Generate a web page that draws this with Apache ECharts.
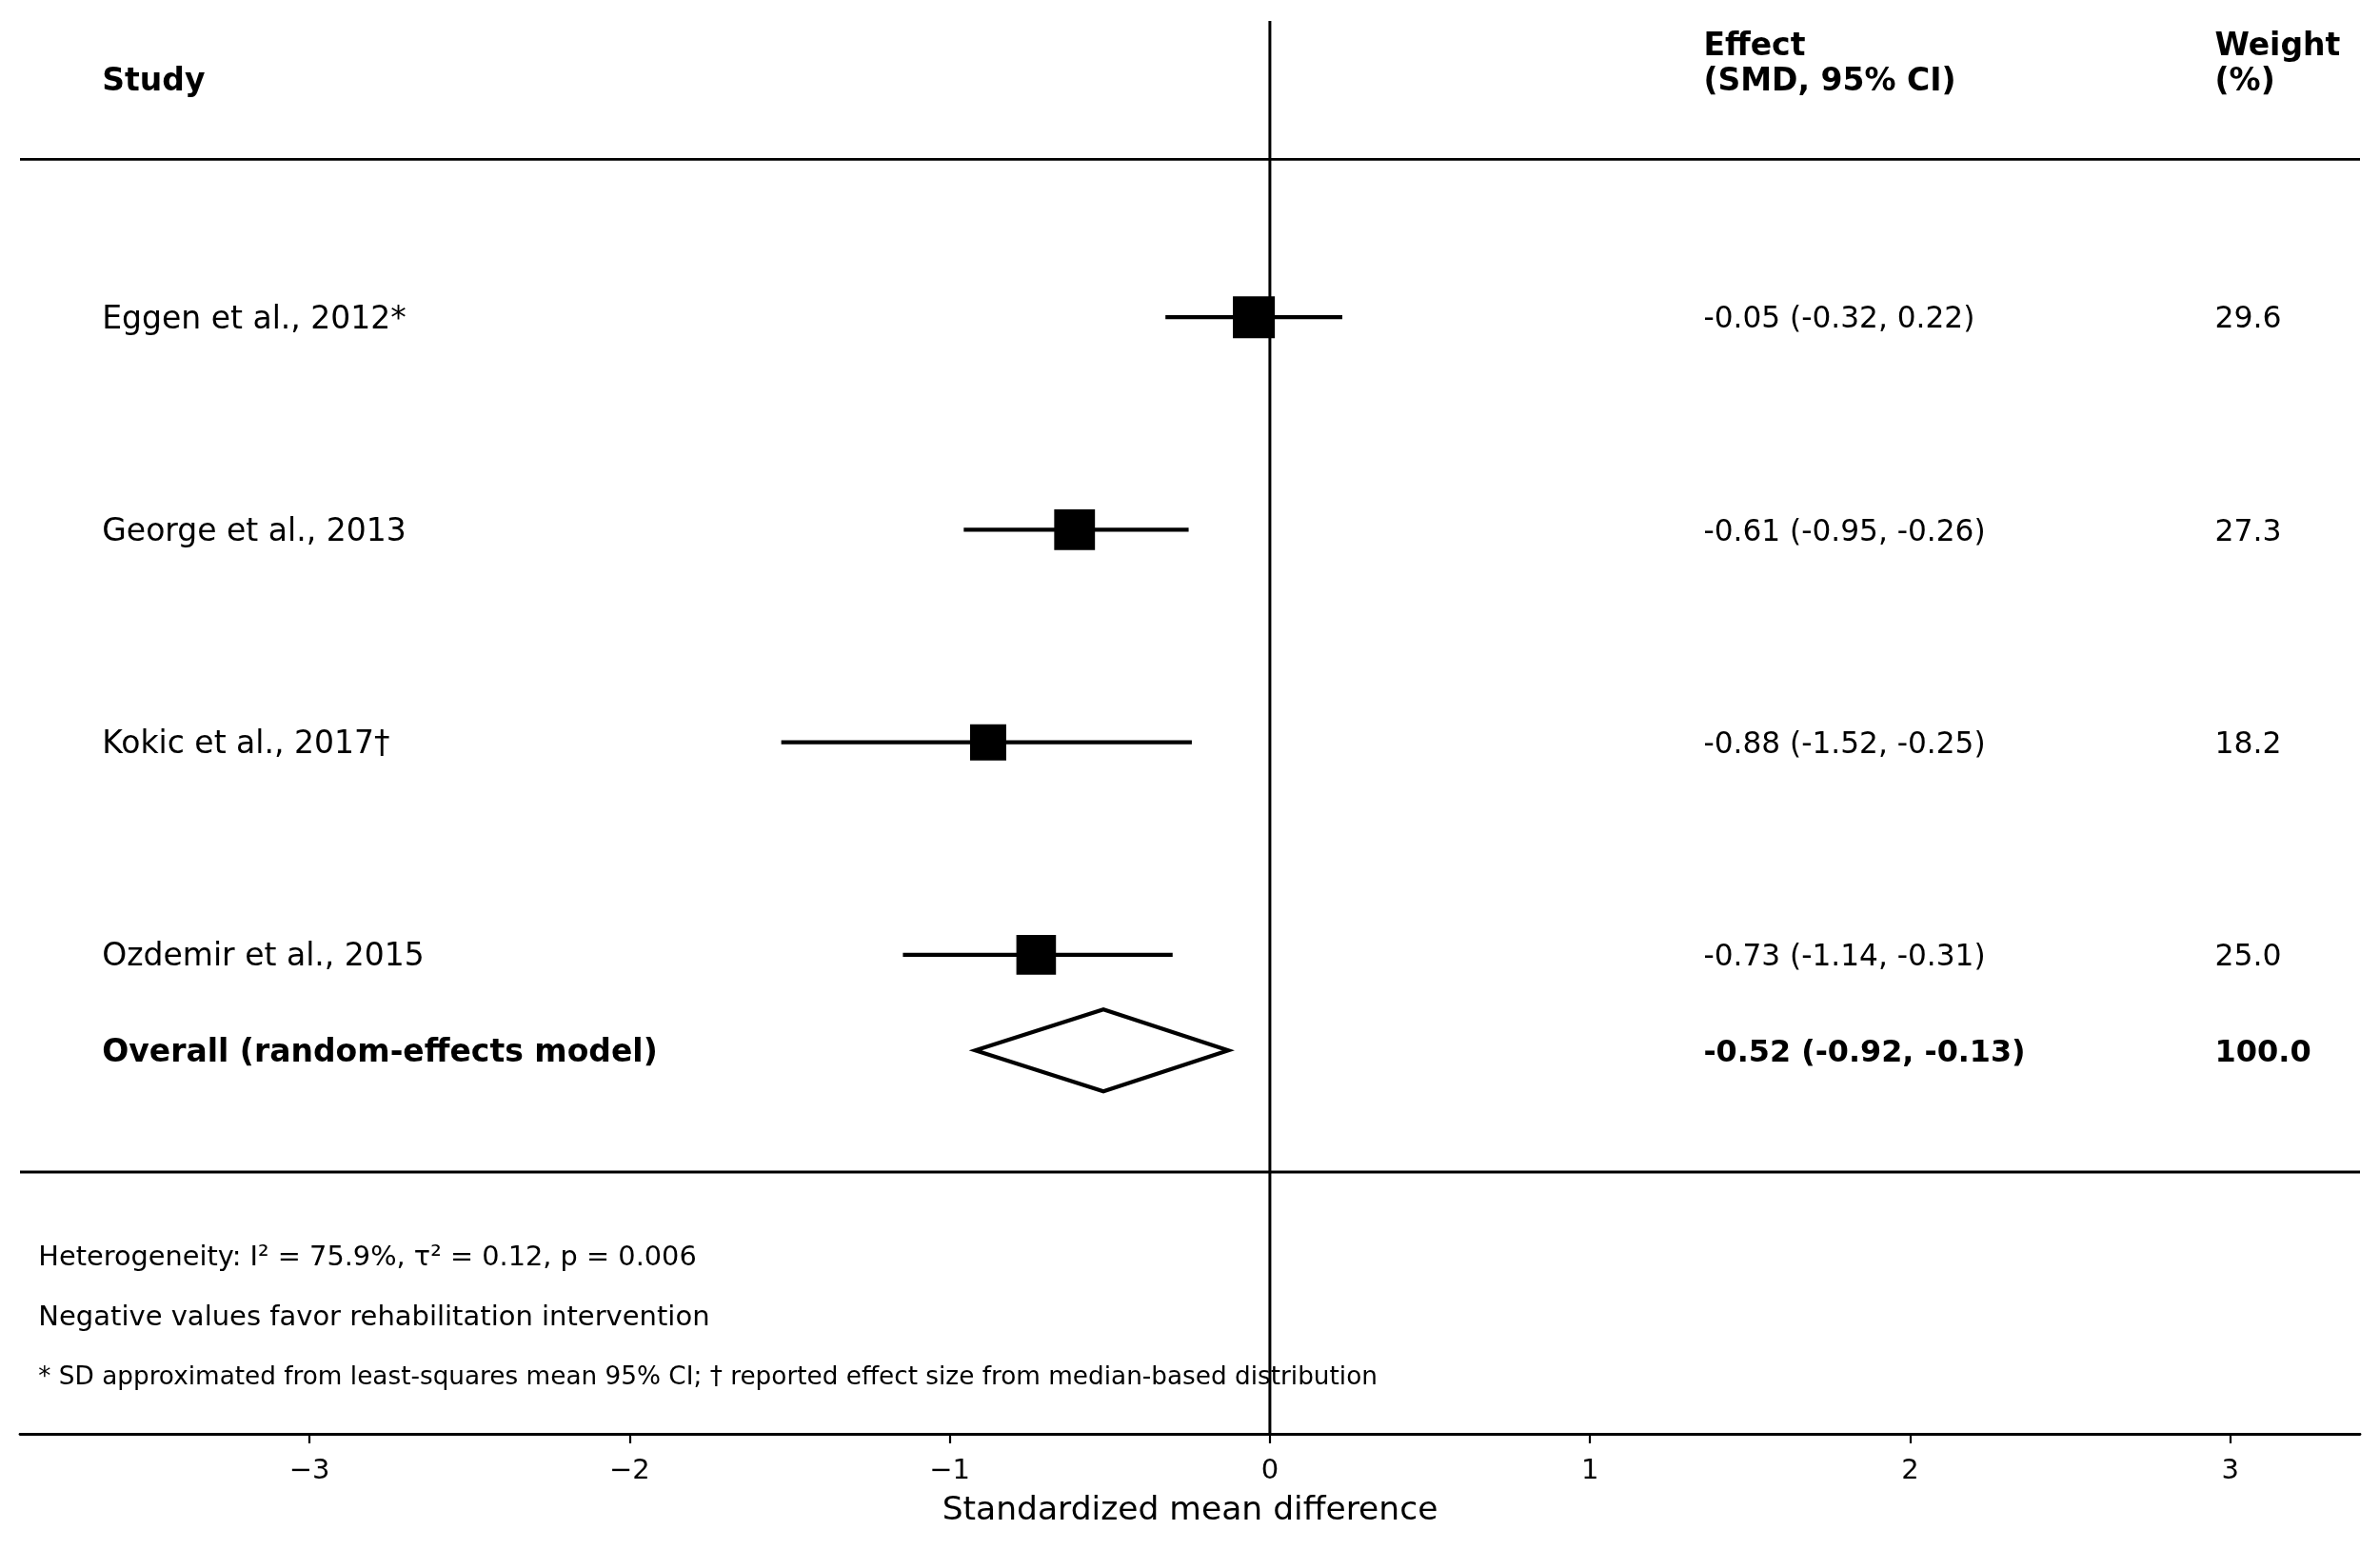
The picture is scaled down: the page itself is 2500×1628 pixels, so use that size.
<!DOCTYPE html>
<html>
<head>
<meta charset="utf-8">
<script src="https://cdn.jsdelivr.net/npm/echarts@6/dist/echarts.min.js"></script>
<style>
  html, body { margin: 0; padding: 0; background: #fff; }
  #main { width: 2500px; height: 1628px; }
</style>
</head>
<body>
<div id="main"></div>
<script>
// study rows
const studies = ['Eggen et al., 2012*', 'George et al., 2013', 'Kokic et al., 2017†', 'Ozdemir et al., 2015'];
const smd = [-0.05, -0.61, -0.88, -0.73];
const ciLow = [-0.32, -0.95, -1.52, -1.14];
const ciHigh = [0.22, -0.26, -0.25, -0.31];
const weights = [29.6, 27.3, 18.2, 25.0];

// pooled estimate
const overallLabel = 'Overall (random-effects model)';
const overallSmd = -0.52;
const overallLow = -0.92;
const overallHigh = -0.13;
const overallWeight = 100.0;

const xTicks = [-3, -2, -1, 0, 1, 2, 3];
const footnotes = [
  'Heterogeneity: I² = 75.9%, τ² = 0.12, p = 0.006',
  'Negative values favor rehabilitation intervention',
  '* SD approximated from least-squares mean 95% CI; † reported effect size from median-based distribution'
];

// layout (axis units)
const X_MIN = -3.904, X_MAX = 3.405;
const Y_MIN = -0.394, Y_MAX = 6.254;
const colStudy = -3.649, colEffect = 1.353, colWeight = 2.95, colNote = -3.848;
const yHead1 = -0.286, yHead2 = -0.121;
const yOverall = 4.45;
const ySeps = [0.257, 5.022];
const yNotes = [5.415, 5.694, 5.979];
const noteSizes = [28.8, 29, 26.3];
const FONT = 'DejaVu Sans';

const rowY = studies.map((s, i) => i + 1);
const fmt = (v) => v.toFixed(2);

function textItem(x, y, text, size, bold) {
  return {
    value: [x, y],
    label: {
      show: true,
      formatter: text,
      fontSize: size,
      fontWeight: bold ? 'bold' : 'normal'
    }
  };
}

const texts = [
  textItem(colStudy, yHead2, 'Study', 33, true),
  textItem(colEffect, yHead1, 'Effect', 33, true),
  textItem(colEffect, yHead2, '(SMD, 95% CI)', 33, true),
  textItem(colWeight, yHead1, 'Weight', 33, true),
  textItem(colWeight, yHead2, '(%)', 33, true)
];
studies.forEach((s, i) => {
  texts.push(textItem(colStudy, rowY[i], s, 33, false));
  texts.push(textItem(colEffect, rowY[i], `${fmt(smd[i])} (${fmt(ciLow[i])}, ${fmt(ciHigh[i])})`, 31.2, false));
  texts.push(textItem(colWeight, rowY[i], weights[i].toFixed(1), 31.5, false));
});
texts.push(textItem(colStudy, yOverall, overallLabel, 33, true));
texts.push(textItem(colEffect, yOverall, `${fmt(overallSmd)} (${fmt(overallLow)}, ${fmt(overallHigh)})`, 31.8, true));
texts.push(textItem(colWeight, yOverall, overallWeight.toFixed(1), 32, true));
footnotes.forEach((t, i) => texts.push(textItem(colNote, yNotes[i], t, noteSizes[i], false)));

const squareSize = (w) => 38 + (w - 18.2) * 0.53;

const myChart = echarts.init(document.getElementById('main'));

const option = {
  animation: false,
  backgroundColor: '#fff',
  textStyle: { fontFamily: FONT },
  grid: { left: 21, right: 21, top: 22, bottom: 122, outerBoundsMode: 'none' },
  xAxis: {
    type: 'value',
    position: 'bottom',
    min: X_MIN,
    max: X_MAX,
    name: 'Standardized mean difference',
    nameLocation: 'middle',
    nameGap: 64,
    nameTextStyle: { fontSize: 34.5, color: '#000', fontFamily: FONT },
    axisLine: { show: true, onZero: false, lineStyle: { color: '#000', width: 2.8 } },
    axisTick: { show: true, customValues: xTicks, length: 10, lineStyle: { color: '#000', width: 2.2 } },
    axisLabel: {
      customValues: xTicks,
      margin: 25,
      fontSize: 29,
      color: '#000',
      fontFamily: FONT,
      formatter: (v) => (v < 0 ? '\u2212' + Math.abs(v) : String(v))
    },
    splitLine: { show: false }
  },
  yAxis: {
    type: 'value',
    inverse: true,
    min: Y_MIN,
    max: Y_MAX,
    show: false
  },
  series: [
    {
      // reference line at zero
      type: 'line',
      data: [[0, Y_MIN], [0, Y_MAX]],
      symbol: 'none',
      lineStyle: { color: '#000', width: 3 },
      z: 1,
      silent: true
    },
    ...ySeps.map((y) => ({
      type: 'line',
      data: [[X_MIN, y], [X_MAX, y]],
      symbol: 'none',
      lineStyle: { color: '#000', width: 2.8 },
      z: 1,
      silent: true
    })),
    {
      // confidence intervals
      type: 'custom',
      data: studies.map((s, i) => [ciLow[i], ciHigh[i], rowY[i]]),
      renderItem: (params, api) => {
        const p1 = api.coord([api.value(0), api.value(2)]);
        const p2 = api.coord([api.value(1), api.value(2)]);
        return {
          type: 'line',
          shape: { x1: p1[0], y1: p1[1], x2: p2[0], y2: p2[1] },
          style: { stroke: '#000', lineWidth: 4.2, lineCap: 'square' }
        };
      },
      z: 2,
      silent: true
    },
    {
      type: 'scatter',
      data: studies.map((s, i) => ({ value: [smd[i], rowY[i]], symbolSize: squareSize(weights[i]) })),
      symbol: 'rect',
      itemStyle: { color: '#000', opacity: 1 },
      z: 3,
      silent: true
    },
    {
      // pooled diamond
      type: 'custom',
      data: [[overallLow, overallSmd, overallHigh, yOverall]],
      renderItem: (params, api) => {
        const y = api.value(3);
        const l = api.coord([api.value(0), y]);
        const c = api.coord([api.value(1), y]);
        const r = api.coord([api.value(2), y]);
        const h = 43;
        return {
          type: 'polygon',
          shape: { points: [[l[0], l[1]], [c[0], c[1] - h], [r[0], r[1]], [c[0], c[1] + h]] },
          style: { fill: '#fff', stroke: '#000', lineWidth: 4.2, lineJoin: 'miter' }
        };
      },
      z: 3,
      silent: true
    },
    {
      // table text
      type: 'scatter',
      data: texts,
      symbolSize: 1,
      itemStyle: { color: 'rgba(0,0,0,0)', opacity: 1 },
      label: { show: true, position: 'right', distance: 0, offset: [0, 3], color: '#000', fontFamily: FONT },
      z: 4,
      silent: true
    }
  ]
};

myChart.setOption(option);
</script>
</body>
</html>
